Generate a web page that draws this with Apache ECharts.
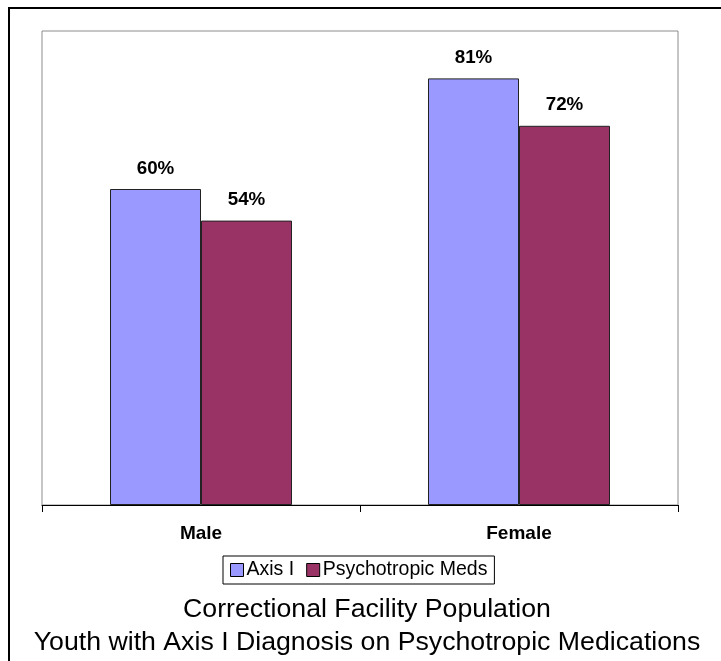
<!DOCTYPE html>
<html>
<head>
<meta charset="utf-8">
<script src="https://cdn.jsdelivr.net/npm/echarts@6/dist/echarts.min.js"></script>
<style>
  html, body { margin: 0; padding: 0; background: #fff; }
  #chart { width: 721px; height: 661px; }
</style>
</head>
<body>
<div id="chart"></div>
<script>
// Share of youth (percent) by gender
const categories = ['Male', 'Female'];
const axisOne = [60, 81];
const psychotropicMeds = [54, 72];
const seriesNames = ['Axis I', 'Psychotropic Meds'];
const titleLines = ['Correctional Facility Population',
                    'Youth with Axis I Diagnosis on Psychotropic Medications'];

const FONT = "'Liberation Sans', Arial, sans-serif";

const chart = echarts.init(document.getElementById('chart'), null, { renderer: 'canvas' });

const barLabel = {
  show: true,
  position: 'top',
  distance: 11,
  formatter: p => p.value + '%',
  fontFamily: FONT,
  fontWeight: 'bold',
  fontSize: 18.8,
  color: '#000'
};

chart.setOption({
  animation: false,
  backgroundColor: '#fff',
  grid: {
    left: 42, right: 43, top: 31, bottom: 156,
    show: true,
    borderColor: '#8c8c8c',
    borderWidth: 1,
    backgroundColor: 'transparent'
  },
  xAxis: {
    type: 'category',
    data: categories,
    axisLine: { lineStyle: { color: '#000', width: 1 } },
    axisTick: { show: true, length: 7, lineStyle: { color: '#000' } },
    axisLabel: {
      margin: 19,
      fontFamily: FONT,
      fontWeight: 'bold',
      fontSize: 19,
      color: '#000'
    }
  },
  yAxis: {
    type: 'value',
    min: 0,
    max: 90,
    show: true,
    axisLine: { show: false },
    axisTick: { show: false },
    axisLabel: { show: false },
    splitLine: { show: false }
  },
  legend: {
    data: seriesNames,
    left: 223,
    top: 556,
    orient: 'horizontal',
    itemWidth: 13,
    itemHeight: 13,
    itemGap: 12,
    padding: [4, 7, 4, 7],
    borderColor: '#000',
    borderWidth: 1,
    icon: 'rect',
    itemStyle: { borderColor: '#000', borderWidth: 1 },
    textStyle: { fontFamily: FONT, fontSize: 19.5, color: '#000', padding: [0, 0, 0, -2] }
  },
  series: [
    {
      name: seriesNames[0],
      type: 'bar',
      data: axisOne,
      barWidth: 91,
      barGap: '0%',
      itemStyle: { color: '#9999ff', borderColor: '#222', borderWidth: 1 },
      label: barLabel
    },
    {
      name: seriesNames[1],
      type: 'bar',
      data: psychotropicMeds,
      barWidth: 91,
      barGap: '0%',
      itemStyle: { color: '#993366', borderColor: '#222', borderWidth: 1 },
      label: barLabel
    }
  ],
  graphic: [
    {
      type: 'rect',
      silent: true,
      shape: { x: 9, y: 8, width: 800, height: 800 },
      style: { fill: 'none', stroke: '#000', lineWidth: 2 }
    },
    {
      type: 'text',
      silent: true,
      style: {
        text: titleLines[0], x: 367, y: 610,
        textAlign: 'center', textVerticalAlign: 'middle',
        font: '26.7px ' + FONT, fill: '#000'
      }
    },
    {
      type: 'text',
      silent: true,
      style: {
        text: titleLines[1], x: 367, y: 643,
        textAlign: 'center', textVerticalAlign: 'middle',
        font: '26.7px ' + FONT, fill: '#000'
      }
    }
  ]
});
</script>
</body>
</html>
